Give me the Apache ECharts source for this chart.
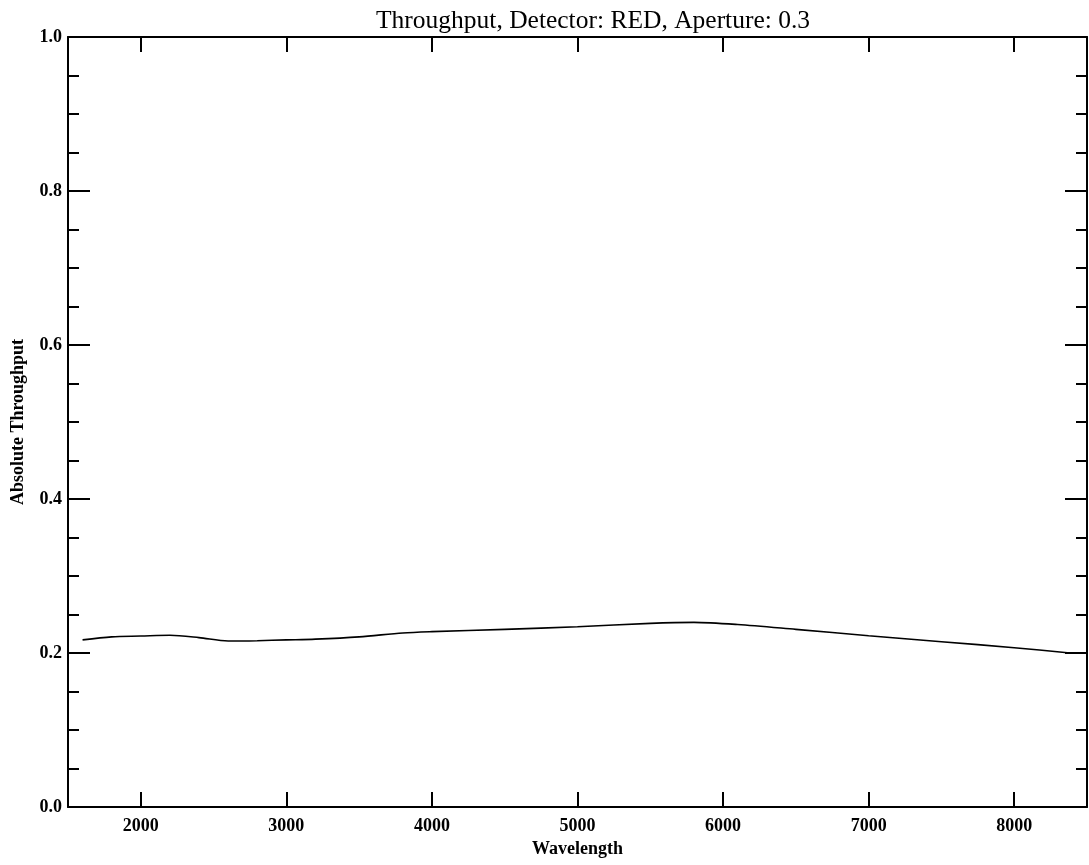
<!DOCTYPE html>
<html>
<head>
<meta charset="utf-8">
<script src="https://cdn.jsdelivr.net/npm/echarts@6/dist/echarts.min.js"></script>
<style>html,body{margin:0;padding:0;background:#fff;}#c{width:1089px;height:865px;}</style>
</head>
<body>
<div id="c"></div>
<script>
const titleText = 'Throughput, Detector: RED, Aperture: 0.3';
const xName = 'Wavelength';
const yName = 'Absolute Throughput';
const wavelengths = [1600, 1800, 2000, 2200, 2400, 2600, 2800, 3000, 3200, 3500, 3800, 4000, 4500, 5000, 5500, 5800, 6100, 6500, 7000, 7500, 8000, 8400];
const throughput  = [0.217, 0.221, 0.222, 0.223, 0.220, 0.2156, 0.216, 0.217, 0.218, 0.221, 0.226, 0.2277, 0.2307, 0.234, 0.2385, 0.2398, 0.237, 0.2307, 0.2225, 0.2147, 0.2069, 0.1996];
const xTicks = [2000, 3000, 4000, 5000, 6000, 7000, 8000];
const xMin = 1500, xMax = 8500;
const yMin = 0, yMax = 1, yStep = 0.2;

const font = 'Liberation Serif';
const chart = echarts.init(document.getElementById('c'), null, {renderer: 'canvas'});
const axisLine = {show: true, onZero: false, lineStyle: {color: '#000', width: 2}};
chart.setOption({
  animation: false,
  backgroundColor: '#fff',
  title: {
    text: titleText, left: 371, top: 3,
    textStyle: {fontFamily: font, fontSize: 25.5, fontWeight: 'normal', color: '#000'}
  },
  grid: {left: 68, right: 2, top: 37, bottom: 58, containLabel: false, outerBoundsMode: 'none'},
  xAxis: [{
    type: 'value', min: xMin, max: xMax, position: 'bottom',
    name: xName, nameLocation: 'middle', nameGap: 32,
    nameTextStyle: {fontFamily: font, fontSize: 18, fontWeight: 'bold', color: '#000'},
    axisLine: axisLine,
    axisTick: {show: true, inside: true, length: 15, customValues: xTicks, lineStyle: {color: '#000', width: 2}},
    axisLabel: {customValues: xTicks, formatter: v => String(v), margin: 10, fontFamily: font, fontSize: 18, fontWeight: 'bold', color: '#000'},
    splitLine: {show: false}
  }, {
    type: 'value', min: xMin, max: xMax, position: 'top',
    axisLine: axisLine,
    axisTick: {show: true, inside: true, length: 15, customValues: xTicks, lineStyle: {color: '#000', width: 2}},
    axisLabel: {show: false},
    splitLine: {show: false}
  }],
  yAxis: [{
    type: 'value', min: yMin, max: yMax, interval: yStep, position: 'left',
    name: yName, nameLocation: 'middle', nameGap: 41, nameRotate: 90,
    nameTextStyle: {fontFamily: font, fontSize: 18, fontWeight: 'bold', color: '#000'},
    axisLine: axisLine,
    axisTick: {show: true, inside: true, length: 22, lineStyle: {color: '#000', width: 2}},
    minorTick: {show: true, splitNumber: 4, length: 11, lineStyle: {color: '#000', width: 2}},
    axisLabel: {margin: 6, formatter: v => v.toFixed(1), fontFamily: font, fontSize: 18, fontWeight: 'bold', color: '#000'},
    splitLine: {show: false}
  }, {
    type: 'value', min: yMin, max: yMax, interval: yStep, position: 'right',
    axisLine: axisLine,
    axisTick: {show: true, inside: true, length: 22, lineStyle: {color: '#000', width: 2}},
    minorTick: {show: true, splitNumber: 4, length: 11, lineStyle: {color: '#000', width: 2}},
    axisLabel: {show: false},
    splitLine: {show: false}
  }],
  series: [{
    type: 'line', xAxisIndex: 0, yAxisIndex: 0,
    data: wavelengths.map((w, i) => [w, throughput[i]]),
    showSymbol: false, smooth: 0.3,
    lineStyle: {color: '#000', width: 1.6}
  }]
});
</script>
</body>
</html>
